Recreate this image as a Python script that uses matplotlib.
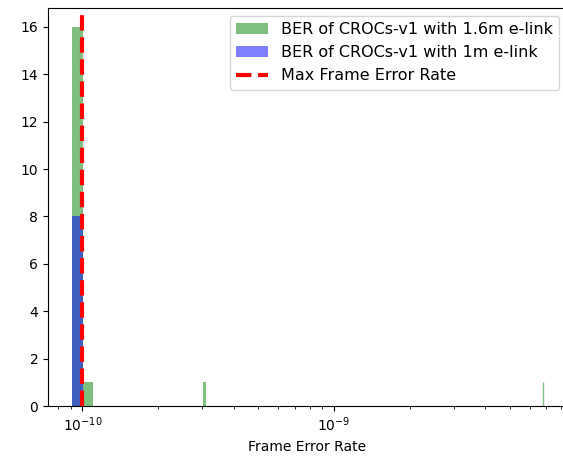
import numpy as np
import matplotlib
matplotlib.use("Agg")
import matplotlib.pyplot as plt

# histogram contents (bin centre, count)
green_centers = [0.955e-10, 1.055e-10, 3.055e-10, 6.8055e-9]
green_counts = [16, 1, 1, 1]
blue_centers = [0.955e-10]
blue_counts = [8]
max_fer = 1e-10

green_label = "BER of CROCs-v1 with 1.6m e-link"
blue_label = "BER of CROCs-v1 with 1m e-link"
line_label = "Max Frame Error Rate"

# linear bins of width 1e-11
bins = np.linspace(0.905e-10, 6.8105e-9, 673)

fig = plt.figure(figsize = (5.63, 4.57), dpi = 100)
# the reference is cropped on the right, so the axes run past the figure edge
ax = fig.add_axes([48 / 563, 51 / 457, 519 / 563, 398 / 457])

_, _, green_patches = ax.hist(green_centers, bins = bins, weights = green_counts,
                              color = 'green', alpha = 0.5, label = green_label)
ax.hist(blue_centers, bins = bins, weights = blue_counts, color = 'blue', alpha = 0.5, label = blue_label)
ax.axvline(x = max_fer, color = 'red', linestyle = '--', linewidth = 3, label = line_label)

# bars far right are thinner than a pixel on the log axis, outline them so they show
for p in green_patches:
    if p.get_height() > 0 and p.get_x() > 1e-9:
        p.set_edgecolor('green')
        p.set_linewidth(1.0)

ax.set_xscale('log')
ax.set_xticks([1e-10, 1e-9])
ax.set_xlabel('Frame Error Rate')
ax.set_yticks([0, 2, 4, 6, 8, 10, 12, 14, 16])
ax.legend(loc = 'upper right', fontsize = 11.5)

fig.savefig('out.png', dpi = 100)
